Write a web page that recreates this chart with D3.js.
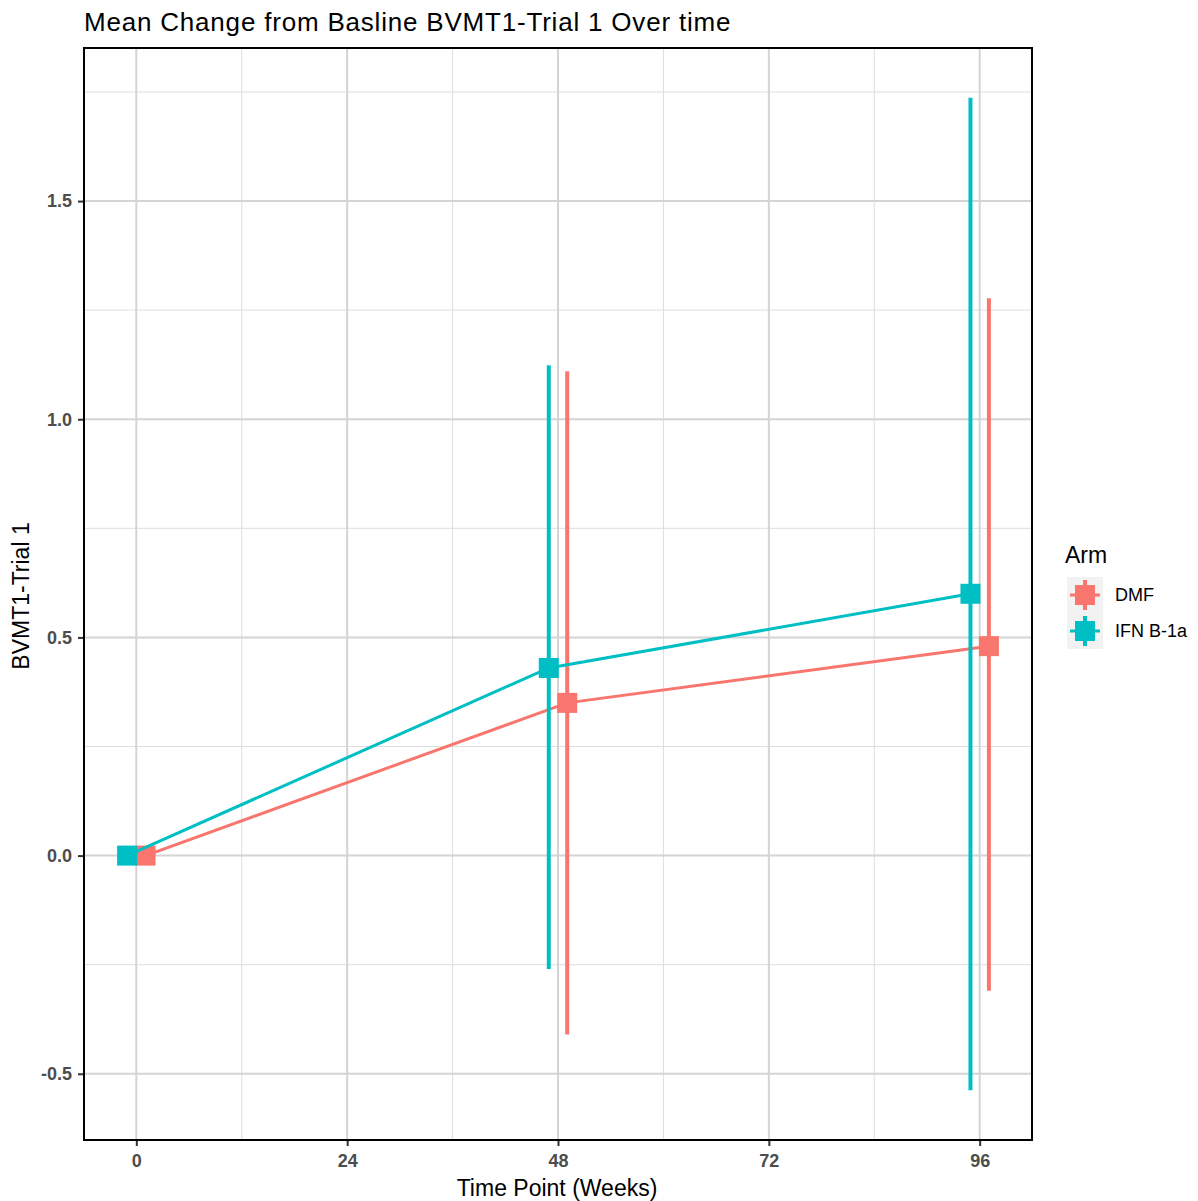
<!DOCTYPE html>
<html>
<head>
<meta charset="utf-8">
<script src="https://cdn.jsdelivr.net/npm/d3@7"></script>
<style>
  body { margin: 0; background: #fff; }
  svg { display: block; font-family: "Liberation Sans", Arial, sans-serif; }
</style>
</head>
<body>
<svg id="chart" width="1198" height="1201"></svg>
<script>
// data
const arms = ["DMF", "IFN B-1a"];
const weeks = [0, 48, 96];
const dmfMean = [0, 0.35, 0.48];
const dmfLow = [0, -0.41, -0.31];
const dmfHigh = [0, 1.11, 1.277];
const ifnMean = [0, 0.43, 0.60];
const ifnLow = [0, -0.26, -0.538];
const ifnHigh = [0, 1.124, 1.737];
const xTicks = [0, 24, 48, 72, 96];
const yTicks = [-0.5, 0, 0.5, 1.0, 1.5];

const colors = { "DMF": "#F8766D", "IFN B-1a": "#00BFC4" };
const dodge = { "DMF": 1.05, "IFN B-1a": -1.05 };

const series = [
  { arm: "DMF", mean: dmfMean, low: dmfLow, high: dmfHigh },
  { arm: "IFN B-1a", mean: ifnMean, low: ifnLow, high: ifnHigh }
].map(s => ({
  arm: s.arm,
  pts: weeks.map((w, i) => ({ x: w + dodge[s.arm], y: s.mean[i], lo: s.low[i], hi: s.high[i] }))
}));

const panel = { left: 84, top: 48, right: 1032, bottom: 1140 };
const svg = d3.select("#chart");

const allX = series.flatMap(s => s.pts.map(p => p.x));
const allY = series.flatMap(s => s.pts.flatMap(p => [p.lo, p.hi]));
const xr = d3.extent(allX), yr = d3.extent(allY);
const xpad = (xr[1] - xr[0]) * 0.05, ypad = (yr[1] - yr[0]) * 0.05;

const x = d3.scaleLinear().domain([xr[0] - xpad, xr[1] + xpad]).range([panel.left, panel.right]);
const y = d3.scaleLinear().domain([yr[0] - ypad, yr[1] + ypad]).range([panel.bottom, panel.top]);

const grid = svg.append("g");
const minorX = xTicks.slice(0, -1).map((t, i) => (t + xTicks[i + 1]) / 2).concat([-12, 108]);
const minorY = yTicks.slice(0, -1).map((t, i) => (t + yTicks[i + 1]) / 2).concat([1.75, -0.75]);

grid.selectAll(".mx").data(minorX.filter(v => x(v) > panel.left && x(v) < panel.right)).join("line")
  .attr("x1", d => x(d)).attr("x2", d => x(d)).attr("y1", panel.top).attr("y2", panel.bottom)
  .attr("stroke", "#dedede").attr("stroke-width", 1);
grid.selectAll(".my").data(minorY.filter(v => y(v) > panel.top && y(v) < panel.bottom)).join("line")
  .attr("y1", d => y(d)).attr("y2", d => y(d)).attr("x1", panel.left).attr("x2", panel.right)
  .attr("stroke", "#dedede").attr("stroke-width", 1);
grid.selectAll(".Mx").data(xTicks).join("line")
  .attr("x1", d => x(d)).attr("x2", d => x(d)).attr("y1", panel.top).attr("y2", panel.bottom)
  .attr("stroke", "#d4d4d4").attr("stroke-width", 2);
grid.selectAll(".My").data(yTicks).join("line")
  .attr("y1", d => y(d)).attr("y2", d => y(d)).attr("x1", panel.left).attr("x2", panel.right)
  .attr("stroke", "#d4d4d4").attr("stroke-width", 2);

const marks = svg.append("g");
const line = d3.line().x(p => x(p.x)).y(p => y(p.y));

series.forEach(s => {
  const g = marks.append("g");
  g.selectAll("line").data(s.pts).join("line")
    .attr("x1", p => x(p.x)).attr("x2", p => x(p.x))
    .attr("y1", p => y(p.lo)).attr("y2", p => y(p.hi))
    .attr("stroke", colors[s.arm]).attr("stroke-width", 4);
  g.append("path").datum(s.pts).attr("d", line)
    .attr("fill", "none").attr("stroke", colors[s.arm]).attr("stroke-width", 3);
  g.selectAll("rect").data(s.pts).join("rect")
    .attr("x", p => x(p.x) - 10).attr("y", p => y(p.y) - 10)
    .attr("width", 20).attr("height", 20)
    .attr("fill", colors[s.arm]);
});

svg.append("rect")
  .attr("x", panel.left).attr("y", panel.top)
  .attr("width", panel.right - panel.left).attr("height", panel.bottom - panel.top)
  .attr("fill", "none").attr("stroke", "#000").attr("stroke-width", 2);

const xAxis = svg.append("g").attr("transform", `translate(0,${panel.bottom + 1})`)
  .call(d3.axisBottom(x).tickValues(xTicks).tickSize(5).tickPadding(8).tickFormat(d => String(d)));
const yAxis = svg.append("g").attr("transform", `translate(${panel.left - 1},0)`)
  .call(d3.axisLeft(y).tickValues(yTicks).tickSize(5).tickPadding(6).tickFormat(d => d.toFixed(1)));
[xAxis, yAxis].forEach(a => {
  a.select(".domain").remove();
  a.selectAll(".tick line").attr("stroke", "#333").attr("stroke-width", 2);
  a.selectAll(".tick text")
    .attr("fill", "#4d4d4d")
    .style("font-weight", "bold").style("font-size", "18px");
});

svg.append("text").attr("x", 84).attr("y", 31)
  .style("font-size", "26px").style("letter-spacing", "0.8px").attr("fill", "#000")
  .text("Mean Change from Basline BVMT1-Trial 1 Over time");
svg.append("text").attr("x", 557).attr("y", 1196)
  .attr("text-anchor", "middle").style("font-size", "23px")
  .text("Time Point (Weeks)");
svg.append("text")
  .attr("transform", `translate(29,${(panel.top + panel.bottom) / 2 + 2}) rotate(-90)`)
  .attr("text-anchor", "middle").style("font-size", "23px")
  .text("BVMT1-Trial 1");

// legend
const legend = svg.append("g").attr("transform", "translate(1067,577)");
legend.append("text").attr("x", -2).attr("y", -14).style("font-size", "23px").text("Arm");
arms.forEach((a, i) => {
  const k = legend.append("g").attr("transform", `translate(0,${i * 36})`);
  k.append("rect").attr("width", 36).attr("height", 36).attr("fill", "#f2f2f2");
  k.append("line").attr("x1", 18).attr("x2", 18).attr("y1", 3).attr("y2", 33)
    .attr("stroke", colors[a]).attr("stroke-width", 4);
  k.append("line").attr("x1", 3).attr("x2", 33).attr("y1", 18).attr("y2", 18)
    .attr("stroke", colors[a]).attr("stroke-width", 3);
  k.append("rect").attr("x", 8).attr("y", 8).attr("width", 20).attr("height", 20).attr("fill", colors[a]);
  k.append("text").attr("x", 48).attr("y", 24).style("font-size", "18px").text(a);
});
</script>
</body>
</html>
